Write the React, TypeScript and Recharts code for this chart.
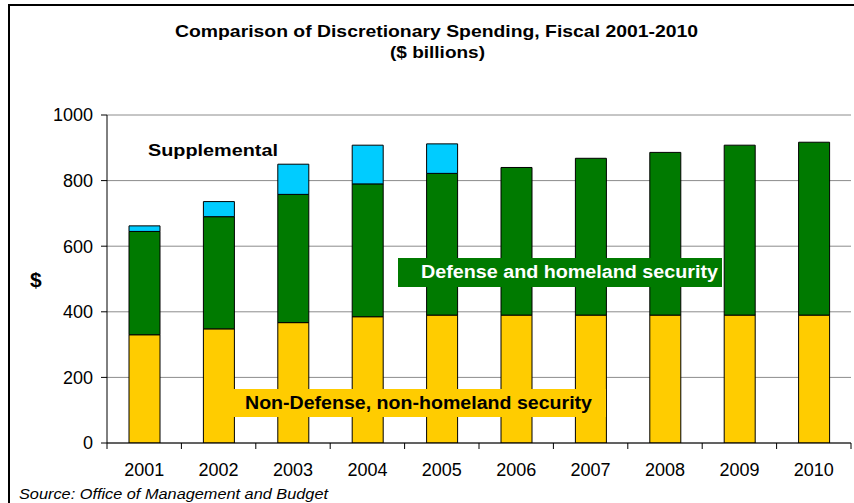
import React from "react";
import {
  BarChart,
  Bar,
  XAxis,
  YAxis,
  CartesianGrid,
  ReferenceLine,
} from "recharts";

const years = ["2001", "2002", "2003", "2004", "2005", "2006", "2007", "2008", "2009", "2010"];
const nonDefense = [330, 348, 367, 385, 390, 390, 390, 390, 390, 390];
const defense = [315, 342, 391, 405, 432, 450, 478, 496, 518, 527];
const supplemental = [17, 46, 92, 118, 90, 0, 0, 0, 0, 0];
const yTicks = [0, 200, 400, 600, 800, 1000];

const data = years.map((year, i) => ({
  year,
  nonDefense: nonDefense[i],
  defense: defense[i],
  supplemental: supplemental[i],
}));

const FONT = "'Liberation Sans', Arial, sans-serif";
const W = 854;
const H = 503;

// year label plus tick marks on the category boundaries (Excel style)
function YearTick(props: any) {
  const { x, y, payload, index, visibleTicksCount } = props;
  const half = payload && payload.offset ? payload.offset : 37.2;
  const isLast = index === (visibleTicksCount || years.length) - 1;
  return (
    <g>
      <line x1={x - half} x2={x - half} y1={y} y2={y + 6} stroke="#000" />
      {isLast && <line x1={x + half} x2={x + half} y1={y} y2={y + 6} stroke="#000" />}
      <text x={x} y={y + 33} textAnchor="middle" fontSize={18} fontFamily={FONT} fill="#000">
        {payload.value}
      </text>
    </g>
  );
}

export default function App() {
  return (
    <div
      style={{
        position: "absolute",
        left: 0,
        top: 0,
        width: W,
        height: H,
        background: "#fff",
        fontFamily: FONT,
        overflow: "hidden",
      }}
    >
      <BarChart
        width={W}
        height={H}
        data={data}
        margin={{ top: 115, right: 3, bottom: 0, left: 0 }}
        barCategoryGap={0}
      >
        <CartesianGrid vertical={false} stroke="#8c8c8c" strokeWidth={1} />
        <XAxis
          dataKey="year"
          height={60}
          tickLine={false}
          tickSize={0}
          tickMargin={0}
          axisLine={{ stroke: "#000" }}
          tick={<YearTick />}
          interval={0}
        />
        <XAxis xAxisId="num" type="number" domain={[0, 10]} hide allowDataOverflow />
        <YAxis
          width={107}
          domain={[0, 1000]}
          ticks={yTicks}
          tickSize={6}
          tickMargin={8}
          axisLine={{ stroke: "#000" }}
          tickLine={{ stroke: "#000" }}
          tick={{ fill: "#000", fontSize: 18, fontFamily: FONT }}
          allowDataOverflow
        />
        <ReferenceLine xAxisId="num" x={10} stroke="#8c8c8c" />
        <Bar dataKey="nonDefense" stackId="a" fill="#FFCC00" stroke="#000" strokeWidth={1} barSize={31} isAnimationActive={false} />
        <Bar dataKey="defense" stackId="a" fill="#007A00" stroke="#000" strokeWidth={1} barSize={31} isAnimationActive={false} />
        <Bar dataKey="supplemental" stackId="a" fill="#00CCFF" stroke="#000" strokeWidth={1} barSize={31} isAnimationActive={false} />
      </BarChart>

      <svg
        width={W}
        height={H}
        style={{ position: "absolute", left: 0, top: 0, pointerEvents: "none" }}
        fontFamily={FONT}
      >
        <path d="M 9 503 L 9 5 L 854 5" fill="none" stroke="#000" strokeWidth={2} />
        <text x={175} y={37} fontSize={17} fontWeight="bold" textLength={523} lengthAdjust="spacingAndGlyphs">
          Comparison of Discretionary Spending, Fiscal 2001-2010
        </text>
        <text x={390} y={58} fontSize={17} fontWeight="bold" textLength={95} lengthAdjust="spacingAndGlyphs">
          ($ billions)
        </text>
        <text x={30} y={287} fontSize={21} fontWeight="bold">
          $
        </text>
        <text x={148} y={156} fontSize={17} fontWeight="bold" textLength={130} lengthAdjust="spacingAndGlyphs">
          Supplemental
        </text>
        <rect x={398} y={258} width={324} height={29} fill="#007A00" />
        <text x={421} y={278} fontSize={18} fontWeight="bold" fill="#fff" textLength={297} lengthAdjust="spacingAndGlyphs">
          Defense and homeland security
        </text>
        <rect x={233} y={389} width={373} height={28} fill="#FFCC00" />
        <text x={245} y={409} fontSize={18} fontWeight="bold" fill="#000" textLength={347} lengthAdjust="spacingAndGlyphs">
          Non-Defense, non-homeland security
        </text>
        <text x={19} y={499} fontSize={15} fontStyle="italic" textLength={309} lengthAdjust="spacingAndGlyphs">
          Source: Office of Management and Budget
        </text>
      </svg>
    </div>
  );
}
